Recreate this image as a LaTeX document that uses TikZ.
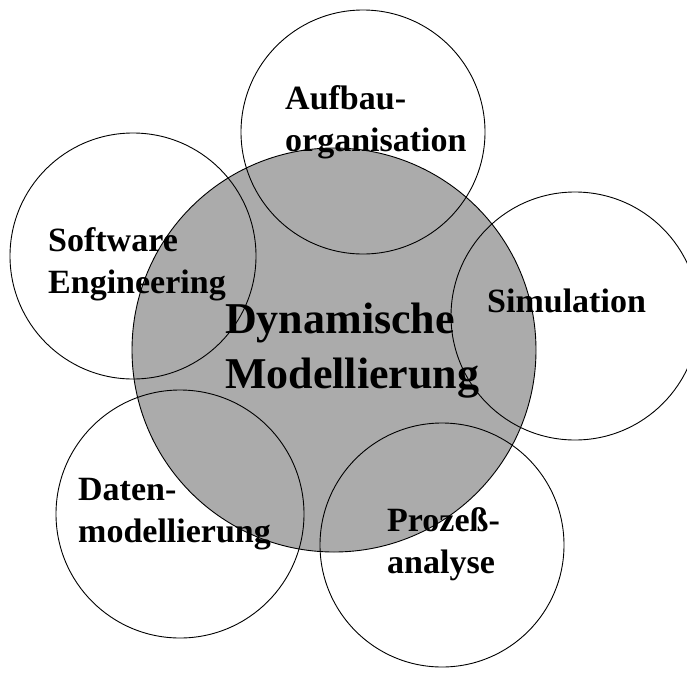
\documentclass[tikz,border=0pt]{standalone}
\usepackage{fontspec}
\setmainfont{Liberation Serif}
\begin{document}
\begin{tikzpicture}[x=1pt,y=-1pt,
  ring/.style={circle, draw=black, line width=0.9pt, inner sep=0pt},
  topic/.style={font=\bfseries\fontsize{34}{42}\selectfont, align=left, inner sep=0pt, anchor=base west},
  core/.style={font=\bfseries\fontsize{44}{55}\selectfont, align=left, inner sep=0pt, anchor=base west}]
\useasboundingbox (0,0) rectangle (687,672);

% central shaded circle
\node[ring, fill=black!33, minimum size=404pt] (dyn) at (334,350) {};

% surrounding circles
\node[ring, minimum size=244pt] (aufbau) at (363,132) {};
\node[ring, minimum size=246pt] (software) at (133,256) {};
\node[ring, minimum size=248pt] (simulation) at (575,316) {};
\node[ring, minimum size=248pt] (daten) at (180,514) {};
\node[ring, minimum size=244pt] (prozess) at (442,545) {};

% labels (base anchor sits on the last line)
\node[core] (dyntext) at (225,388) {Dynamische\\Modellierung};
\node[topic] (aufbautext) at (285,151) {Aufbau-\\organisation};
\node[topic] (softwaretext) at (48,293) {Software\\Engineering};
\node[topic] (simulationtext) at (487,312) {Simulation};
\node[topic] (datentext) at (78,542) {Daten-\\modellierung};
\node[topic] (prozesstext) at (387,573) {Prozeß-\\analyse};
\end{tikzpicture}
\end{document}
